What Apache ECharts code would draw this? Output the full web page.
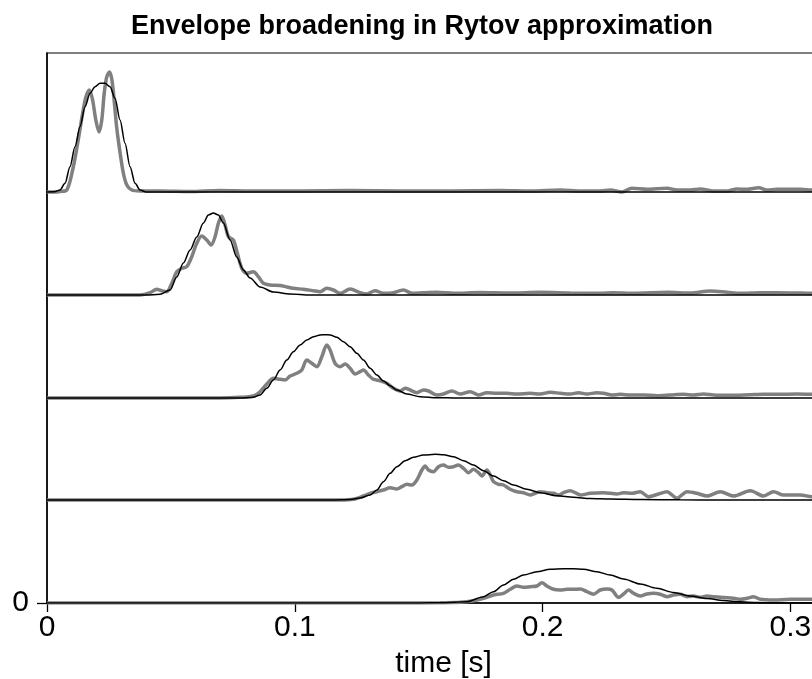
<!DOCTYPE html>
<html>
<head>
<meta charset="utf-8">
<title>Envelope broadening in Rytov approximation</title>
<script src="https://cdn.jsdelivr.net/npm/echarts@6/dist/echarts.min.js"></script>
<style>
  html, body { margin: 0; padding: 0; background: #fff; }
  #chart { width: 812px; height: 679px; }
</style>
</head>
<body>
<div id="chart"></div>
<script>
// vertical offset of each trace (arbitrary units), top trace first
const offsets = [411, 308, 205, 103, 0];

// theoretical envelopes (black): [time s, amplitude]
const black1 = [[0, 0], [0.0030, 0.3], [0.00525, 2], [0.00727, 8.7], [0.00929, 25.3], [0.0113, 45.3], [0.01332, 65.3],
  [0.01534, 85.3], [0.01736, 98.7], [0.01938, 105.3], [0.0214, 108.7], [0.02341, 108.7], [0.02543, 105.3],
  [0.02745, 93.7], [0.02947, 72], [0.03149, 48.7], [0.03351, 25.3], [0.03553, 8.7], [0.03754, 2], [0.040, 0], [0.32, 0]];
const black2 = [[0, 0], [0.040, 0], [0.04562, 0.7], [0.04966, 5], [0.05236, 18], [0.05503, 32], [0.05773, 45],
  [0.06043, 58], [0.0631, 72], [0.06512, 80], [0.06714, 82], [0.06915, 80], [0.07117, 72], [0.07388, 55],
  [0.07658, 38], [0.07925, 25], [0.08195, 17], [0.08599, 8], [0.09136, 3], [0.0981, 1], [0.10617, 0], [0.32, 0]];
const black3 = [[0, 0], [0.0779, 0], [0.08328, 0.7], [0.08599, 3], [0.08869, 9.7], [0.09136, 18], [0.09406, 28],
  [0.09677, 38], [0.09943, 46.3], [0.10214, 53], [0.10484, 58], [0.10751, 61.3], [0.11021, 63], [0.11223, 63.3],
  [0.11425, 63], [0.11695, 60.7], [0.11962, 56.3], [0.12232, 51.3], [0.12503, 44.7], [0.12769, 38], [0.1304, 29.7],
  [0.1331, 23], [0.13577, 17], [0.13847, 12.3], [0.14117, 8], [0.14521, 4], [0.15058, 1.3], [0.15732, 0.3],
  [0.165, 0], [0.32, 0]];
const black4 = [[0, 0], [0.115, 0], [0.12232, 0.5], [0.12636, 2], [0.1304, 5], [0.1331, 10], [0.13577, 18.3],
  [0.13847, 26.7], [0.14117, 33.3], [0.14452, 39.3], [0.14788, 42.7], [0.15191, 45], [0.15664, 45.7],
  [0.15999, 45.3], [0.16402, 43.3], [0.16806, 39.3], [0.1721, 35], [0.17613, 29.3], [0.18017, 24], [0.18421, 19.3],
  [0.18825, 15], [0.19365, 10.7], [0.19902, 7.3], [0.20576, 4.3], [0.21247, 2.7], [0.21921, 1.5], [0.22728, 1],
  [0.23939, 0.5], [0.25554, 0.2], [0.2717, 0], [0.32, 0]];
const black5 = [[0, 0], [0.150, 0], [0.15865, 0.3], [0.16943, 1.3], [0.17613, 6.3], [0.18017, 11.3], [0.18421, 18],
  [0.18825, 23.7], [0.19228, 28], [0.19769, 31.3], [0.20306, 33.7], [0.20843, 34.3], [0.21247, 34.3], [0.2165, 33.7],
  [0.22191, 31.3], [0.22728, 28], [0.23265, 24], [0.23939, 19], [0.24613, 14.7], [0.25284, 10.5], [0.25958, 7],
  [0.26632, 4.5], [0.27303, 2.5], [0.27976, 1.2], [0.28651, 0.5], [0.29321, 0], [0.32, 0]];

// simulated envelopes (gray): [time s, amplitude]
const gray1 = [[0, 0], [0.0032, 0], [0.0052, 0.5], [0.0080, 2], [0.0106, 25], [0.0126, 52], [0.0144, 79], [0.0157, 95],
  [0.0171, 102], [0.0184, 92], [0.0197, 72], [0.0210, 60], [0.0221, 72], [0.0231, 99], [0.0241, 115], [0.0252, 120],
  [0.0262, 112], [0.0272, 89], [0.0281, 65], [0.0295, 39], [0.0308, 19], [0.0322, 7], [0.0342, 2], [0.0375, 1],
  [0.0456, 1], [0.0577, 0.5], [0.0698, 1.5], [0.0820, 1], [0.1021, 1], [0.1223, 1.5], [0.1425, 1], [0.1627, 1],
  [0.1829, 1.5], [0.1950, 1], [0.2071, 2], [0.2152, 1], [0.2232, 1], [0.2273, 2], [0.2320, 0], [0.2360, 3.7],
  [0.2421, 2.7], [0.2502, 3.7], [0.2542, 2], [0.2596, 2], [0.2636, 3], [0.2690, 1], [0.2744, 1], [0.2784, 3],
  [0.2825, 2.7], [0.2872, 4.3], [0.2905, 2], [0.2946, 2.7], [0.3040, 2.7], [0.3088, 2], [0.32, 2]];
const gray2 = [[0, 0], [0.03754, 0], [0.04158, 2.3], [0.04429, 5.7], [0.0463, 4.3], [0.04832, 3.3], [0.05034, 11.7],
  [0.05236, 23.3], [0.05438, 26.7], [0.0564, 28.3], [0.05841, 38.3], [0.06043, 51.7], [0.06245, 59], [0.06447, 55],
  [0.06621, 50], [0.06782, 58.3], [0.06915, 71.7], [0.07053, 79], [0.07186, 70], [0.07319, 58.3], [0.07521, 55],
  [0.07682, 41.7], [0.0786, 26.7], [0.08062, 21.7], [0.08328, 23.3], [0.0853, 18.3], [0.08732, 11.7], [0.09003, 10],
  [0.09406, 9.5], [0.09677, 8], [0.09943, 6.7], [0.10347, 5.7], [0.10751, 4.3], [0.11021, 3.3], [0.11291, 6.7],
  [0.11558, 5], [0.11828, 1.7], [0.12232, 6], [0.12636, 2.3], [0.12906, 1], [0.13241, 4.3], [0.13577, 1.7],
  [0.1398, 2.3], [0.14384, 5], [0.14723, 1.7], [0.15191, 2.3], [0.15732, 2.7], [0.16402, 1.7], [0.1748, 2.5],
  [0.1869, 2], [0.1990, 2.7], [0.2111, 2], [0.2232, 1.7], [0.2285, 2.3], [0.2366, 1.7], [0.2503, 2.7], [0.2596, 2],
  [0.2677, 4], [0.2745, 2.7], [0.2798, 1.7], [0.2878, 2.3], [0.2947, 2.3], [0.3020, 2], [0.3088, 1.7], [0.32, 2]];
const gray3 = [[0, 0], [0.06984, 0], [0.07791, 0.7], [0.08328, 2], [0.08599, 6.3], [0.08869, 14], [0.09136, 19.7],
  [0.09406, 18.7], [0.09608, 18], [0.0981, 22], [0.1008, 24.7], [0.10282, 28], [0.10484, 38], [0.10686, 34.7],
  [0.10888, 31.3], [0.1109, 41.3], [0.11291, 53], [0.11425, 48], [0.11627, 34.7], [0.11828, 31.3], [0.1203, 34],
  [0.12232, 29.7], [0.12434, 24], [0.12636, 26.3], [0.12769, 28], [0.12971, 23], [0.13173, 18.7], [0.13443, 17.3],
  [0.13714, 14.7], [0.1398, 9.7], [0.14251, 7], [0.14452, 9.7], [0.14654, 8], [0.14925, 5.3], [0.15191, 8],
  [0.15393, 7], [0.15732, 3], [0.15999, 4], [0.16338, 7], [0.16673, 4], [0.17077, 6.3], [0.17412, 3], [0.17751, 5.3],
  [0.18154, 4.7], [0.18558, 4.7], [0.18962, 4], [0.19499, 4.7], [0.19902, 4], [0.20306, 5.7], [0.2071, 4.7],
  [0.21114, 4], [0.21449, 5.3], [0.21788, 4], [0.22191, 5.3], [0.22458, 4.7], [0.22797, 3], [0.23132, 3.7],
  [0.23536, 3], [0.24073, 3], [0.24613, 2.3], [0.25151, 3], [0.25688, 3.7], [0.26091, 3], [0.26495, 4],
  [0.26899, 3], [0.27573, 2.7], [0.2838, 3.3], [0.28917, 3.7], [0.29458, 3.7], [0.30265, 4], [0.30883, 3.7],
  [0.32, 3.5]];
const gray4 = [[0, 0], [0.11828, 0], [0.12365, 0.7], [0.12769, 4], [0.1304, 6.7], [0.1331, 8.3], [0.13577, 10],
  [0.13847, 12.3], [0.14117, 11], [0.14319, 13.3], [0.14521, 15.7], [0.14723, 15], [0.14925, 20], [0.15127, 30],
  [0.1526, 34], [0.15393, 30], [0.15595, 28.3], [0.15797, 33.3], [0.15999, 35], [0.162, 32.7], [0.16402, 33.3],
  [0.16604, 35], [0.16806, 31.7], [0.17008, 27.3], [0.1721, 30.7], [0.17412, 27.3], [0.17549, 24], [0.17751, 30],
  [0.17884, 25], [0.18017, 18.3], [0.18219, 15.7], [0.18421, 15], [0.18691, 10.7], [0.18962, 8.3], [0.19228, 7.3],
  [0.19499, 5], [0.19701, 6.7], [0.19902, 8.3], [0.20173, 7.3], [0.2044, 6.7], [0.20642, 5], [0.20843, 7.3],
  [0.21114, 9.3], [0.21315, 7.3], [0.21517, 5], [0.21921, 6.7], [0.22458, 7.3], [0.22999, 6], [0.23265, 7.3],
  [0.23604, 6.7], [0.23939, 8.3], [0.24274, 3.3], [0.24678, 6], [0.25017, 8.3], [0.25421, 1.7], [0.25825, 8.3],
  [0.26228, 6.7], [0.26632, 4], [0.27169, 8.3], [0.27706, 4], [0.2838, 9.3], [0.28917, 4], [0.29321, 8.3],
  [0.29724, 5], [0.30399, 5], [0.30883, 3.3], [0.32, 5]];
const gray5 = [[0, 0], [0.14251, 0], [0.15865, 0.3], [0.16673, 0.7], [0.1721, 2.3], [0.17613, 4.7], [0.18017, 8],
  [0.18421, 9.7], [0.18691, 13.7], [0.18962, 17], [0.19228, 15.7], [0.19499, 16.3], [0.19769, 17], [0.19971, 20.3],
  [0.20173, 17], [0.2044, 13.7], [0.2071, 13], [0.2098, 13.7], [0.21247, 13.7], [0.21517, 14], [0.21788, 11.3],
  [0.22054, 8.7], [0.22324, 13], [0.22595, 14], [0.22797, 13], [0.23063, 5.7], [0.23265, 9], [0.23467, 13],
  [0.23669, 9.7], [0.23939, 7], [0.2421, 9], [0.24476, 9.7], [0.24747, 8.7], [0.25017, 6.3], [0.25284, 8],
  [0.25554, 8.7], [0.25825, 6.3], [0.26091, 7], [0.26362, 5.7], [0.26632, 7], [0.26899, 6.3], [0.27169, 5.7],
  [0.27439, 5.3], [0.27706, 4.7], [0.27976, 3.7], [0.28247, 4.7], [0.28513, 6.3], [0.28784, 3.7], [0.29321, 3],
  [0.29995, 3.7], [0.30883, 3.7], [0.32, 3.5]];

const blackTraces = [black1, black2, black3, black4, black5];
const grayTraces = [gray1, gray2, gray3, gray4, gray5];
const xTicks = [0, 0.1, 0.2, 0.3];

const font = 'Liberation Sans, Arial, Helvetica, sans-serif';

function shift(trace, off) {
  return trace.map(p => [p[0], p[1] + off]);
}

const series = [];
grayTraces.forEach((tr, i) => {
  series.push({
    type: 'line',
    data: shift(tr, offsets[i]),
    showSymbol: false,
    smooth: 0.3,
    z: 2,
    lineStyle: { color: '#808080', width: 3.5 }
  });
});
blackTraces.forEach((tr, i) => {
  series.push({
    type: 'line',
    data: shift(tr, offsets[i]),
    showSymbol: false,
    smooth: 0.3,
    smoothMonotone: 'x',
    z: 3,
    lineStyle: { color: '#000', width: 1.5 }
  });
});

const chart = echarts.init(document.getElementById('chart'), null, { renderer: 'canvas' });
chart.setOption({
  backgroundColor: '#ffffff',
  animation: false,
  title: {
    text: 'Envelope broadening in Rytov approximation',
    left: 417,
    top: 8,
    textAlign: 'center',
    textStyle: { fontFamily: font, fontWeight: 'bold', fontSize: 27, color: '#000' }
  },
  grid: {
    left: 47, top: 53, bottom: 76, right: -28,
    outerBoundsMode: 'none',
    containLabel: false,
    show: true, borderColor: '#000', borderWidth: 1.2
  },
  xAxis: {
    type: 'value',
    min: 0, max: 0.32, interval: 0.1,
    name: 'time [s]',
    nameLocation: 'middle',
    nameGap: 46,
    nameTextStyle: { fontFamily: font, fontSize: 30, color: '#000' },
    axisLine: { onZero: false, lineStyle: { color: '#000', width: 1.5 } },
    axisTick: { inside: false, length: 9, customValues: xTicks, lineStyle: { color: '#000', width: 1.3 } },
    axisLabel: {
      fontFamily: font, fontSize: 30, color: '#000', margin: 10,
      customValues: xTicks,
      formatter: v => String(v)
    },
    splitLine: { show: false }
  },
  yAxis: {
    type: 'value',
    min: 0, max: 550,
    axisLine: { show: true, lineStyle: { color: '#000', width: 1.5 } },
    axisTick: { show: true, length: 10, customValues: [0], lineStyle: { color: '#000', width: 1.3 } },
    axisLabel: { fontFamily: font, fontSize: 30, color: '#000', margin: 18, customValues: [0] },
    splitLine: { show: false }
  },
  series: series
});
</script>
</body>
</html>
